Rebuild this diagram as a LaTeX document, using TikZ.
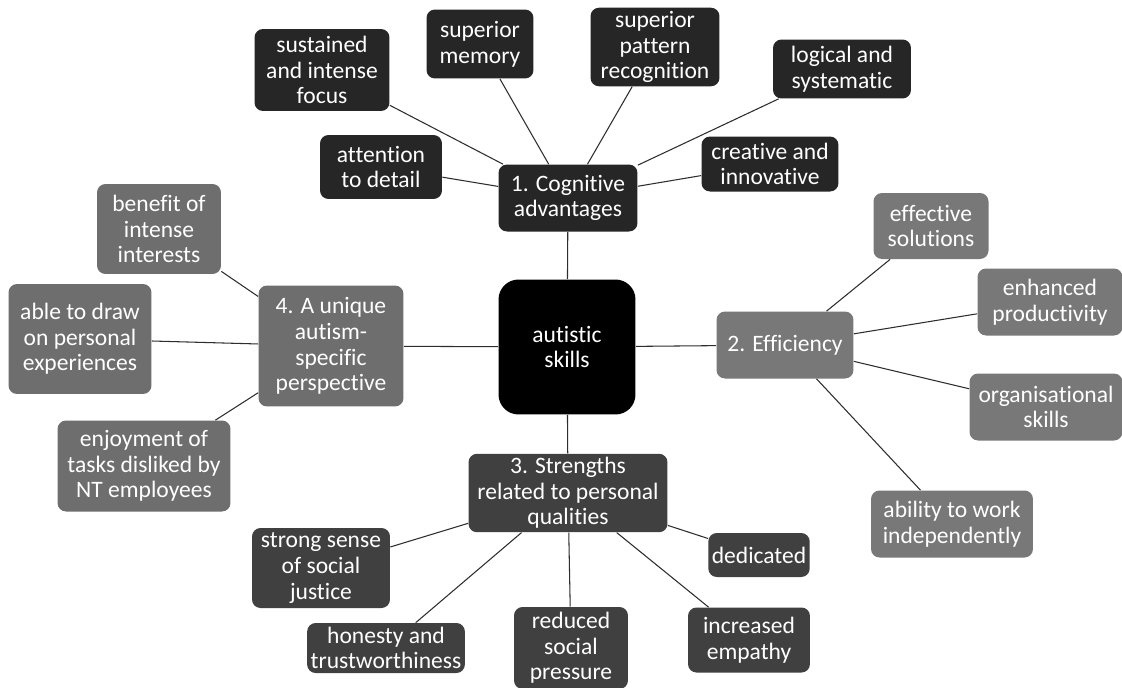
\documentclass[tikz,border=0pt]{standalone}
\usepackage{fontspec}
\setmainfont{Carlito}[Ligatures=NoCommon]
\usetikzlibrary{positioning}
\definecolor{cogfill}{RGB}{38,38,38}
\definecolor{efffill}{RGB}{120,120,120}
\definecolor{strfill}{RGB}{64,64,64}
\definecolor{perfill}{RGB}{110,110,110}
\definecolor{linkcol}{RGB}{45,45,45}
\tikzset{
    skill/.style={rectangle, rounded corners=0.17cm, text=white, align=center, inner sep=2pt, font=\fontsize{13.4}{14.6}\selectfont},
    core/.style={skill, fill=black, rounded corners=0.4cm, minimum width=2.74cm, minimum height=2.7cm},
    cogbox/.style={skill, fill=cogfill},
    effbox/.style={skill, fill=efffill},
    strbox/.style={skill, fill=strfill},
    perbox/.style={skill, fill=perfill},
    link/.style={draw=linkcol, line width=0.6pt}
}
\begin{document}
\begin{tikzpicture}[x=0.02cm, y=-0.02cm]

    \clip (0,0) rectangle (1122,687);
    \fill[white] (0,0) rectangle (1122,687);

    % centre
    \node (skills) [core] at (567,347) {autistic\\skills};

    % 1. Cognitive advantages
    \node (cog) [cogbox, minimum width=2.78cm, minimum height=1.34cm] at (568,198) {1. Cognitive\\advantages};
    \node (detail) [cogbox, minimum width=2.44cm, minimum height=1.28cm] at (381,167) {attention\\to detail};
    \node (focus) [cogbox, minimum width=2.7cm, minimum height=1.64cm] at (322,70) {sustained\\and intense\\focus};
    \node (memory) [cogbox, minimum width=2.14cm, minimum height=1.38cm] at (480,44) {superior\\memory};
    \node (pattern) [cogbox, minimum width=2.58cm, minimum height=1.54cm] at (655,47) {superior\\pattern\\recognition};
    \node (logical) [cogbox, minimum width=2.76cm, minimum height=1.18cm] at (842,69) {logical and\\systematic};
    \node (creative) [cogbox, minimum width=2.74cm, minimum height=1.1cm] at (770,164) {creative and\\innovative};

    % 2. Efficiency
    \node (eff) [effbox, minimum width=2.74cm, minimum height=1.34cm] at (785,345) {2. Efficiency};
    \node (solutions) [effbox, minimum width=2.3cm, minimum height=1.32cm] at (931,226) {effective\\solutions};
    \node (product) [effbox, minimum width=2.9cm, minimum height=1.34cm] at (1050,302) {enhanced\\productivity};
    \node (organise) [effbox, minimum width=3.06cm, minimum height=1.34cm] at (1046,407) {organisational\\skills};
    \node (alone) [effbox, minimum width=3.24cm, minimum height=1.34cm] at (952,524) {ability to work\\independently};

    % 3. Strengths related to personal qualities
    \node (str) [strbox, minimum width=3.98cm, minimum height=1.56cm] at (568,493) {3. Strengths\\related to personal\\qualities};
    \node (dedicated) [strbox, minimum width=1.64cm, minimum height=0.88cm] at (759,555) {dedicated};
    \node (justice) [strbox, minimum width=2.76cm, minimum height=1.6cm] at (321,568) {strong sense\\of social\\justice};
    \node (honesty) [strbox, minimum width=3.1cm, minimum height=1cm] at (386,648) {honesty and\\trustworthiness};
    \node (pressure) [strbox, minimum width=2.28cm, minimum height=1.64cm] at (571,648) {reduced\\social\\pressure};
    \node (empathy) [strbox, minimum width=2.44cm, minimum height=1.3cm] at (749,640) {increased\\empathy};

    % 4. A unique autism-specific perspective
    \node (per) [perbox, minimum width=2.9cm, minimum height=2.42cm] at (331,346) {4. A unique\\autism-\\specific\\perspective};
    \node (interests) [perbox, minimum width=2.48cm, minimum height=1.8cm] at (159,229) {benefit of\\intense\\interests};
    \node (draw) [perbox, minimum width=2.86cm, minimum height=2.2cm] at (80,339) {able to draw\\on personal\\experiences};
    \node (enjoy) [perbox, minimum width=3.46cm, minimum height=1.82cm] at (144,466) {enjoyment of\\tasks disliked by\\NT employees};

    % Links
    \draw [link] (skills) -- (cog);
    \draw [link] (skills) -- (eff);
    \draw [link] (skills) -- (str);
    \draw [link] (skills) -- (per);

    \draw [link] (cog) -- (detail);
    \draw [link] (cog) -- (focus);
    \draw [link] (cog) -- (memory);
    \draw [link] (cog) -- (pattern);
    \draw [link] (cog) -- (logical);
    \draw [link] (cog) -- (creative);

    \draw [link] (eff) -- (solutions);
    \draw [link] (eff) -- (product);
    \draw [link] (eff) -- (organise);
    \draw [link] (eff) -- (alone);

    \draw [link] (str) -- (dedicated);
    \draw [link] (str) -- (justice);
    \draw [link] (str) -- (honesty);
    \draw [link] (str) -- (pressure);
    \draw [link] (str) -- (empathy);

    \draw [link] (per) -- (interests);
    \draw [link] (per) -- (draw);
    \draw [link] (per) -- (enjoy);

\end{tikzpicture}
\end{document}
